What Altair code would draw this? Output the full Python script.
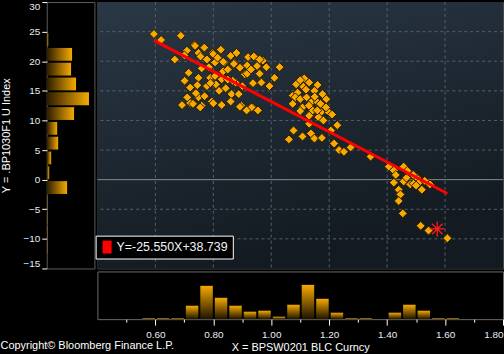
import altair as alt
import pandas as pd

# ---------------- data ----------------
x_vals = [0.595, 0.620, 0.688, 0.667, 0.709, 0.735, 0.749, 0.769, 0.798, 0.826, 0.778, 0.806, 0.838, 0.872,
          0.892, 0.917, 0.920, 0.951, 0.715, 0.701, 0.749, 0.745, 0.778, 0.809, 0.829, 0.843, 0.863, 0.877,
          0.888, 0.909, 0.937, 0.692, 0.720, 0.749, 0.760, 0.795, 0.829, 0.897, 0.937, 0.720, 0.789,
          0.737, 0.800, 0.834, 0.871, 0.917, 0.983, 0.971, 1.029, 0.960, 1.011, 0.994, 0.966, 0.806, 0.834,
          0.867, 0.730, 0.755, 0.892, 0.932, 0.915, 0.954, 1.074, 1.091,
          0.700, 0.756, 0.785, 0.815, 0.850, 0.860, 0.760, 0.790, 0.820, 0.850, 0.740, 0.770, 0.800, 0.860,
          0.710, 0.900, 0.930, 0.940, 0.880, 0.960,
          1.114, 1.131, 1.111, 1.149, 1.177, 1.083, 1.100, 1.122, 1.074, 1.108, 1.137, 1.160, 1.143, 1.172,
          1.198, 1.131, 1.163, 1.189, 1.077, 1.061, 1.108, 1.137, 1.149, 1.175, 1.206, 1.228, 1.217, 1.234,
          1.251, 1.274, 1.131, 1.086, 1.159,
          1.100, 1.120, 1.150, 1.170, 1.130, 1.190, 1.100, 1.180, 1.210, 1.160,
          1.343, 1.406, 1.423, 1.457, 1.474, 1.503, 1.457, 1.480, 1.440, 1.446, 1.440, 1.508, 1.548, 1.520,
          1.454, 1.516, 1.543, 1.608, 1.467, 1.491, 1.423,
          1.470, 1.490, 1.500, 1.430, 1.530]
y_vals = [24.6, 23.6, 24.3, 20.3, 21.8, 22.8, 21.4, 22.3, 21.4, 21.95, 20.3, 19.8, 19.8, 19.7,
          18.9, 19.3, 20.7, 19.2, 18.05, 16.7, 17.2, 15.95, 15.8, 16.1, 16.95, 15.45, 14.45, 16.4,
          14.45, 17.8, 16.3, 12.6, 12.95, 13.9, 12.5, 13.2, 12.6, 12.5, 12.2, 15.55, 17.2,
          22.6, 21.2, 19.9, 19.55, 17.9, 19.0, 20.1, 19.0, 17.9, 17.2, 15.8, 16.4, 17.5, 18.3,
          16.7, 12.8, 12.2, 12.3, 12.2, 11.7, 11.7, 14.2, 14.7,
          21.0, 20.8, 19.0, 20.6, 18.6, 20.9, 18.8, 16.3, 15.0, 16.9, 14.6, 14.1, 12.9, 13.2,
          13.9, 15.8, 18.6, 20.8, 21.4, 20.3,
          17.1, 16.4, 15.7, 15.0, 14.45, 13.9, 13.6, 13.9, 12.8, 12.2, 13.05, 13.05, 11.7, 11.4,
          11.4, 10.8, 10.55, 12.2, 8.3, 6.8, 7.3, 7.8, 6.95, 7.05, 8.3, 9.2, 6.1, 5.0,
          4.7, 5.45, 9.45, 16.1, 11.7,
          16.8, 15.2, 14.0, 12.8, 12.5, 13.6, 11.6, 10.0, 11.0, 16.0,
          3.9, 2.2, 1.55, 2.2, 1.1, 0.3, -0.3, -0.8, -1.7, -2.5, -3.6, -0.55, -0.8, -1.7,
          -5.7, -7.8, -8.6, -9.9, 0.33, -0.67, -0.5,
          1.5, 0.8, -1.0, 0.8, -0.2]

last_x = [1.573]
last_y = [-8.33]

slope = -25.550
intercept = 38.739
eq_label = "Y=-25.550X+38.739"

# left histogram (Y distribution)
y_bin_lo = [22.5, 20.0, 17.5, 15.0, 12.5, 10.0, 7.5, 5.0, 2.5, 0.0, -2.5, -5.0, -7.5, -10.0, -12.5]
y_bin_hi = [25.0, 22.5, 20.0, 17.5, 15.0, 12.5, 10.0, 7.5, 5.0, 2.5, 0.0, -2.5, -5.0, -7.5, -10.0]
y_bin_cnt = [3, 51, 49, 59, 85, 55, 21, 23, 9, 5, 41, 1, 1, 1, 1]

# bottom histogram (X distribution)
x_bin_lo = [0.55, 0.60, 0.65, 0.70, 0.75, 0.80, 0.85, 0.90, 0.95, 1.00, 1.05,
            1.10, 1.15, 1.20, 1.25, 1.30, 1.35, 1.40, 1.45, 1.50, 1.55, 1.60]
x_bin_hi = [0.60, 0.65, 0.70, 0.75, 0.80, 0.85, 0.90, 0.95, 1.00, 1.05, 1.10,
            1.15, 1.20, 1.25, 1.30, 1.35, 1.40, 1.45, 1.50, 1.55, 1.60, 1.65]
x_bin_cnt = [2, 2, 2, 27, 67, 43, 27, 15, 17, 5, 29, 69, 41, 13, 2, 2, 0, 13, 29, 17, 2, 2]

x_domain = [0.4, 1.8]
y_domain = [-15, 30]
x_ticks = [0.5, 0.6, 0.7, 0.8, 0.9, 1.0, 1.1, 1.2, 1.3, 1.4, 1.5, 1.6, 1.7, 1.8]
y_ticks = [30, 25, 20, 15, 10, 5, 0, -5, -10, -15]
grid_x = [0.6, 0.8, 1.0, 1.2, 1.4, 1.6]
grid_y = [25, 20, 15, 10, 5, -5, -10]
zero_y = [0]

FONT = "Liberation Sans"

# ---------------- frames ----------------
pts = pd.DataFrame({"x": x_vals, "y": y_vals})
last = pd.DataFrame({"x": last_x, "y": last_y})
line_x = [min(x_vals), max(x_vals)]
line_df = pd.DataFrame({"x": line_x, "y": [slope * v + intercept for v in line_x], "lab": [eq_label] * 2})
ly = pd.DataFrame({"lo": y_bin_lo, "hi": y_bin_hi, "n": y_bin_cnt})
bx = pd.DataFrame({"lo": x_bin_lo, "hi": x_bin_hi, "n": x_bin_cnt})
bg_df = pd.DataFrame({"x": [x_domain[0]], "x2": [x_domain[1]], "y": [y_domain[0]], "y2": [y_domain[1]]})

xs = alt.Scale(domain=x_domain, nice=False, zero=False)
ys = alt.Scale(domain=y_domain, nice=False, zero=False)

W_MAIN, H_MAIN, SIDE = 408, 268, 48

panel_grad = alt.Gradient(gradient="linear",
                          stops=[alt.GradientStop(color="#2a3845", offset=0),
                                 alt.GradientStop(color="#131a21", offset=1)],
                          x1=0, y1=0, x2=0.35, y2=1)
bar_grad_v = alt.Gradient(gradient="linear",
                          stops=[alt.GradientStop(color="#f6aa00", offset=0),
                                 alt.GradientStop(color="#1c1200", offset=1)],
                          x1=0, y1=0, x2=0, y2=1)
bar_grad_h = alt.Gradient(gradient="linear",
                          stops=[alt.GradientStop(color="#2a1b00", offset=0),
                                 alt.GradientStop(color="#f6aa00", offset=1)],
                          x1=0, y1=0, x2=1, y2=0)

# ---------------- main panel ----------------
bg = alt.Chart(bg_df).mark_rect(fill=panel_grad).encode(
    x=alt.X("x:Q", scale=xs, axis=None), x2="x2:Q",
    y=alt.Y("y:Q", scale=ys, axis=None), y2="y2:Q")

vgrid = alt.Chart(pd.DataFrame({"v": grid_x})).mark_rule(
    color="#56616c", strokeDash=[3, 3], strokeWidth=1).encode(
    x=alt.X("v:Q", scale=xs, axis=None))
hgrid = alt.Chart(pd.DataFrame({"v": grid_y})).mark_rule(
    color="#56616c", strokeDash=[3, 3], strokeWidth=1).encode(
    y=alt.Y("v:Q", scale=ys, axis=None))
zline = alt.Chart(pd.DataFrame({"v": zero_y})).mark_rule(
    color="#8a8a8a", strokeWidth=1).encode(
    y=alt.Y("v:Q", scale=ys, axis=None))

scatter = alt.Chart(pts).mark_point(
    shape="diamond", filled=True, fill="#f7a900", stroke="#2a1c00",
    strokeWidth=1, size=80, opacity=1).encode(
    x=alt.X("x:Q", scale=xs, axis=None),
    y=alt.Y("y:Q", scale=ys, axis=None))

legend_symbol = "M-0.7,-1L0.7,-1L0.7,1L-0.7,1Z"
reg = alt.Chart(line_df).mark_line(strokeWidth=3).encode(
    x=alt.X("x:Q", scale=xs, axis=None),
    y=alt.Y("y:Q", scale=ys, axis=None),
    color=alt.Color("lab:N", scale=alt.Scale(domain=[eq_label], range=["#ff0000"]),
                    legend=alt.Legend(title=None, orient="none", legendX=49.2, legendY=235,
                                      symbolType=legend_symbol, symbolFillColor="#ff0000",
                                      symbolStrokeColor="#ff0000", symbolStrokeWidth=0,
                                      symbolSize=169, labelColor="#eef4fb", labelFont=FONT,
                                      labelFontSize=12.5, labelOffset=3, padding=5,
                                      fillColor="#000000", strokeColor="#ffffff")))

star_path = "M-1,0L1,0M0,-1L0,1M-0.7,-0.7L0.7,0.7M-0.7,0.7L0.7,-0.7"
star = alt.Chart(last).mark_point(shape=star_path, filled=False, stroke="#ff1a1a",
                                  strokeWidth=1.3, size=230, opacity=1).encode(
    x=alt.X("x:Q", scale=xs, axis=None),
    y=alt.Y("y:Q", scale=ys, axis=None))

main = alt.layer(bg, vgrid, hgrid, zline, scatter, reg, star).properties(
    width=W_MAIN, height=H_MAIN,
    view=alt.ViewBackground(stroke="#4a4a4a", fill="#000000"))

# ---------------- left histogram with Y axis ----------------
left = alt.Chart(ly).mark_bar(binSpacing=2, fill=bar_grad_h).encode(
    y=alt.Y("lo:Q", bin="binned", scale=ys,
            axis=alt.Axis(values=y_ticks, labelFlush=True, grid=False, domain=False,
                          tickColor="#ffffff", tickSize=5, tickWidth=1,
                          labelColor="#e6eef8", labelFont=FONT, labelFontSize=10,
                          labelPadding=2, title="Y = .BP1030F1 U Index",
                          titleColor="#ffffff", titleFont=FONT, titleFontSize=11,
                          titleFontWeight="normal", titlePadding=11)),
    y2="hi:Q",
    x=alt.X("n:Q", scale=alt.Scale(domain=[0, 96]), axis=None)
).properties(width=SIDE, height=H_MAIN,
             view=alt.ViewBackground(stroke="#5c5c5c", fill="#000000"))

# ---------------- bottom histogram with X axis ----------------
major_test = "abs(round(datum.value * 10) % 2) == 0"
bottom = alt.Chart(bx).mark_bar(binSpacing=2, fill=bar_grad_v).encode(
    x=alt.X("lo:Q", bin="binned", scale=xs,
            axis=alt.Axis(values=x_ticks, labelFlush=True, grid=False, domain=False,
                          labelExpr=major_test + " ? format(datum.value, '.2f') : ''",
                          tickColor="#ffffff", tickWidth=1,
                          tickSize={"condition": {"test": major_test, "value": 6}, "value": 3},
                          labelColor="#e6eef8", labelFont=FONT, labelFontSize=10,
                          labelPadding=4, title="X = BPSW0201 BLC Curncy",
                          titleColor="#ffffff", titleFont=FONT, titleFontSize=11,
                          titleFontWeight="normal", titlePadding=3)),
    x2="hi:Q",
    y=alt.Y("n:Q", scale=alt.Scale(domain=[0, 96]), axis=None)
).properties(width=W_MAIN, height=SIDE,
             view=alt.ViewBackground(stroke="#6a6a6a", fill="#000000"))

blank = alt.Chart(pd.DataFrame({"a": [0]})).mark_point(opacity=0).encode(
    x=alt.X("a:Q", axis=None), y=alt.Y("a:Q", axis=None)
).properties(width=SIDE, height=SIDE, view=alt.ViewBackground(stroke=None, fill=None))

chart = alt.concat(left, main, blank, bottom, columns=2, spacing=1, align="each").properties(
    padding={"left": 0, "top": 0, "right": 0, "bottom": 0},
    background="#000000",
    title=alt.TitleParams("Copyright\u00a9 Bloomberg Finance L.P.", orient="bottom", anchor="start",
                          offset=-13, color="#ffffff", font=FONT, fontSize=11,
                          fontWeight="normal"),
).configure_view(strokeWidth=1)

chart.save("out.html", embed_options={"renderer": "svg", "actions": False})
